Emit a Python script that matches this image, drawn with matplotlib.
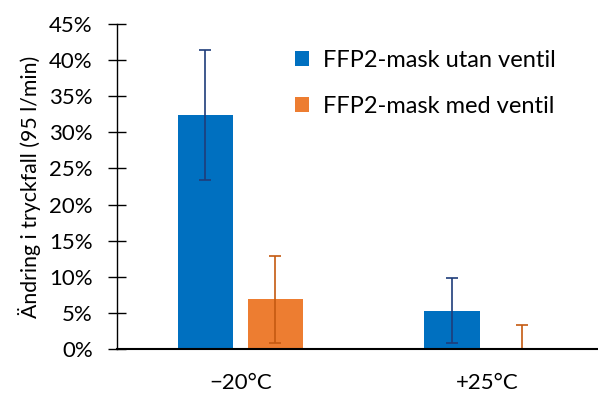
import numpy as np
from matplotlib import pyplot as plt
from matplotlib.ticker import PercentFormatter

plt.rcParams['font.family'] = ['Lato', 'DejaVu Sans']

categories = ['\u221220°C', '+25°C']
utan_ventil = [32.4, 5.3]
utan_ventil_err = [9.0, 4.5]
med_ventil = [6.9, 0.0]
med_ventil_err = [6.0, 3.3]
labels = ['FFP2-mask utan ventil', 'FFP2-mask med ventil']

fig = plt.figure(figsize=(5.98, 3.94), dpi=100)
ax = fig.add_axes([0.1957, 0.1142, 0.8043, 0.8248])

x = np.arange(len(categories))
w = 0.224
off = 0.142

ax.bar(x - off, utan_ventil, w, color='#0070c0', label=labels[0],
       yerr=utan_ventil_err, ecolor='#1f3d7a', capsize=4, error_kw={'elinewidth': 1.2, 'capthick': 1.2})
ax.bar(x + off, med_ventil, w, color='#ed7d31', label=labels[1],
       yerr=med_ventil_err, ecolor='#c55a11', capsize=4, error_kw={'elinewidth': 1.2, 'capthick': 1.2})

ax.set_xlim(-0.5, 1.45)
ax.set_ylim(0, 45)
ax.set_yticks(np.arange(0, 46, 5))
ax.yaxis.set_major_formatter(PercentFormatter(decimals=0))
ax.set_xticks(x)
ax.set_xticklabels(categories)
ax.tick_params(axis='x', length=0, labelsize=16, pad=17)
ax.tick_params(axis='y', direction='inout', length=13, width=1, labelsize=16, pad=11)
ax.set_ylabel('Ändring i tryckfall (95 l/min)', fontsize=15.3, labelpad=6)

for s in ['top', 'right']:
    ax.spines[s].set_visible(False)
ax.spines['left'].set_linewidth(1)
ax.spines['bottom'].set_linewidth(1.5)

ax.legend(loc='upper left', bbox_to_anchor=(0.325, 0.985), frameon=False, fontsize=17,
          handlelength=0.6, handleheight=0.6, labelspacing=1.05, handletextpad=0.6)

fig.savefig('out.png', dpi=100)
